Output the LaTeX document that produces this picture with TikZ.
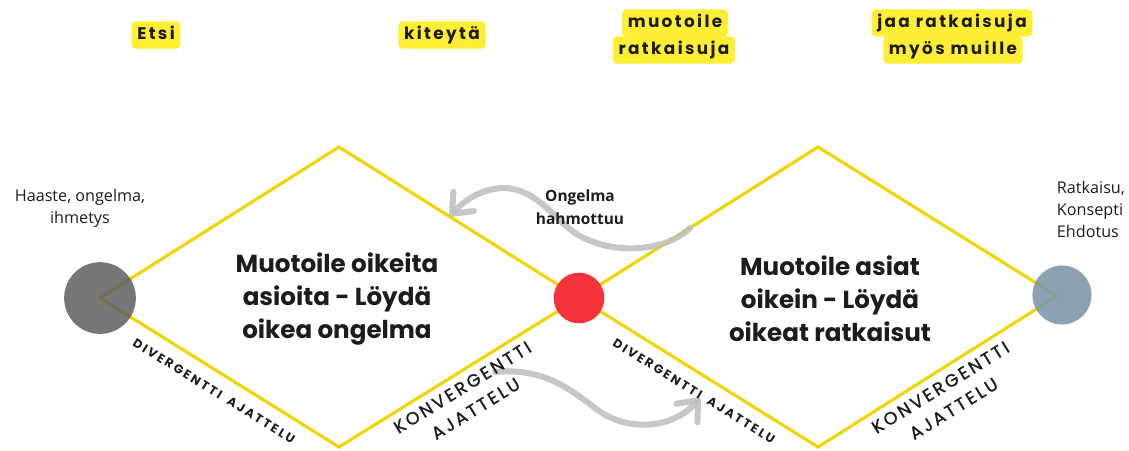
\documentclass[tikz,border=0pt]{standalone}
\usepackage{fontspec}
\setmainfont{Poppins}
\newfontfamily\opensans{Open Sans}
\newfontfamily\tagfont{Poppins}[LetterSpace=14]
\newfontfamily\edgefont{Poppins}[LetterSpace=18]
\newfontfamily\bigedgefont{Poppins}[LetterSpace=16, FakeBold=1.2]
\definecolor{lineyellow}{HTML}{F2D400}
\definecolor{tagyellow}{HTML}{FFEE33}
\definecolor{startgray}{HTML}{5E5E5E}
\definecolor{midred}{HTML}{F4333B}
\definecolor{endblue}{HTML}{7F98AB}
\definecolor{arrowgray}{HTML}{BDBDBD}
\definecolor{textdark}{HTML}{1C1C1C}
\usetikzlibrary{arrows.meta}
\tikzset{
	diamondline/.style={
			draw=lineyellow,
			line width=2.2pt,
			line join=miter
		},
	dotnode/.style={
			circle,
			draw=none,
			inner sep=0pt
		},
	startnode/.style={
			dotnode,
			fill=startgray,
			fill opacity=0.85,
			minimum size=51pt
		},
	midnode/.style={
			dotnode,
			fill=midred,
			minimum size=36pt
		},
	endnode/.style={
			dotnode,
			fill=endblue,
			fill opacity=0.9,
			minimum size=42pt
		},
	tagnode/.style={
			fill=tagyellow,
			rounded corners=3pt,
			text=textdark,
			font=\tagfont\bfseries\fontsize{12}{14}\selectfont,
			inner xsep=4pt,
			inner ysep=0pt,
			minimum height=19.5pt,
			text depth=0.5ex
		},
	maintext/.style={
			align=center,
			text=textdark,
			font=\bfseries\fontsize{17.5}{23.5}\selectfont
		},
	sidetext/.style={
			text=textdark,
			font=\opensans\fontsize{11.5}{15.6}\selectfont
		},
	notetext/.style={
			align=center,
			text=textdark,
			font=\opensans\bfseries\fontsize{11}{16.4}\selectfont
		},
	edgetext/.style={
			text=textdark,
			font=\edgefont\bfseries\fontsize{8.8}{10}\selectfont
		},
	bigedgetext/.style={
			align=center,
			text=textdark,
			font=\bigedgefont\fontsize{12.5}{17.8}\selectfont
		},
	bigarrow/.style={
			draw=arrowgray,
			draw opacity=0.85,
			line width=4.3pt,
			line cap=round,
			-{Straight Barb[length=12pt,width=20pt,round]}
		}
}
\begin{document}
\begin{tikzpicture}[x=0.025cm, y=-0.025cm]
    \useasboundingbox (0,0) rectangle (1129,450);

    \coordinate (p1) at (100,298);
    \coordinate (p2) at (339,147);
    \coordinate (p3) at (579,298);
    \coordinate (p4) at (339,447);
    \coordinate (p5) at (818,147);
    \coordinate (p6) at (1057,296);
    \coordinate (p7) at (818,447);

    \draw[diamondline] (p1) -- (p2) -- (p3) -- (p4) -- cycle;
    \draw[diamondline] (p3) -- (p5) -- (p6) -- (p7) -- cycle;

    \node[startnode] (start) at (100,298) {};
    \node[midnode] (mid) at (579,298) {};
    \node[endnode] (end) at (1062,295) {};

    \coordinate (a1) at (690,228);
    \coordinate (a2) at (450,216);
    \coordinate (b1) at (495,372);
    \coordinate (b2) at (700,398);

    \draw[bigarrow] (a1) .. controls (665,252) and (615,255) .. (580,236)
        .. controls (555,222) and (540,190) .. (505,188)
        .. controls (482,188) and (465,200) .. (a2);
    \draw[bigarrow] (b1) .. controls (540,368) and (565,385) .. (595,408)
        .. controls (625,432) and (672,430) .. (b2);

    \node[tagnode] (etsi) at (156,35) {Etsi};
    \node[tagnode] (kiteyta) at (442,35) {kiteytä};
    \node[tagnode] (muot1) at (675,23) {muotoile};
    \node[tagnode] (muot2) at (674,50) {ratkaisuja};
    \node[tagnode] (jaa1) at (952,23) {jaa ratkaisuja};
    \node[tagnode] (jaa2) at (953,50) {myös muille};

    \node[maintext] (left) at (337,299) {Muotoile oikeita\\asioita - Löydä\\oikea ongelma};
    \node[maintext] (right) at (830,299) {Muotoile asiat\\oikein - Löydä\\oikeat ratkaisut};

    \node[sidetext, align=center] (haaste) at (80,208) {Haaste, ongelma,\\ihmetys};
    \node[sidetext, align=left, anchor=west] (ratkaisu) at (1052,209) {Ratkaisu,\\Konsepti\\Ehdotus};
    \node[notetext] (ongelma) at (580,207) {Ongelma\\hahmottuu};

    \node[edgetext, rotate=-31.8] (div1) at (214,391) {DIVERGENTTI\hspace{0.7em}AJATTELU};
    \node[edgetext, rotate=-31.8] (div2) at (694,391) {DIVERGENTTI\hspace{0.7em}AJATTELU};
    \node[bigedgetext, rotate=31.8] (konv1) at (469,398) {KONVERGENTTI\\AJATTELU};
    \node[bigedgetext, rotate=31.8] (konv2) at (947,398) {KONVERGENTTI\\AJATTELU};
\end{tikzpicture}
\end{document}
